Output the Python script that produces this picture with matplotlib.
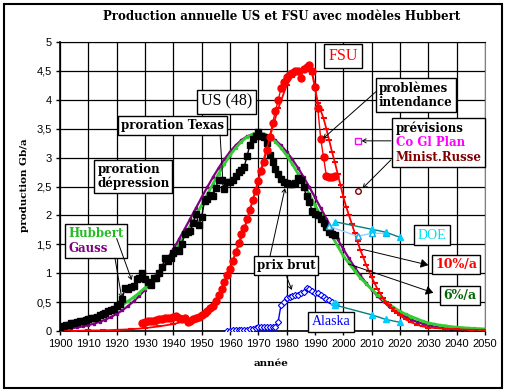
import matplotlib
matplotlib.use("Agg")
import matplotlib.pyplot as plt
from matplotlib.offsetbox import TextArea, VPacker, AnnotationBbox
from matplotlib.patches import Rectangle

# ---------------- data (Gb/a) ----------------
us_years = list(range(1900, 1998))
us_prod = [0.07, 0.08, 0.10, 0.11, 0.13, 0.14, 0.15, 0.17, 0.18, 0.19,
           0.21, 0.22, 0.23, 0.25, 0.27, 0.29, 0.31, 0.34, 0.36, 0.38,
           0.44, 0.47, 0.56, 0.75, 0.73, 0.76, 0.77, 0.90, 0.91, 1.00,
           0.90, 0.85, 0.79, 0.91, 0.91, 1.00, 1.10, 1.27, 1.21, 1.26,
           1.35, 1.40, 1.39, 1.50, 1.68, 1.71, 1.73, 1.86, 2.02, 1.84,
           1.97, 2.25, 2.29, 2.36, 2.33, 2.48, 2.62, 2.62, 2.45, 2.58,
           2.57, 2.62, 2.68, 2.75, 2.79, 2.84, 3.02, 3.22, 3.33, 3.37,
           3.44, 3.38, 3.36, 3.25, 3.05, 2.92, 2.80, 2.72, 2.63, 2.57,
           2.56, 2.54, 2.55, 2.56, 2.64, 2.62, 2.49, 2.33, 2.23, 2.08,
           2.02, 2.00, 1.93, 1.86, 1.80, 1.72, 1.67, 1.66]

fsu_years = list(range(1929, 1998))
fsu_prod = [0.14, 0.15, 0.17, 0.17, 0.18, 0.19, 0.20, 0.21, 0.22, 0.22,
            0.23, 0.24, 0.26, 0.23, 0.21, 0.22, 0.16, 0.18, 0.20, 0.23,
            0.25, 0.28, 0.31, 0.35, 0.39, 0.44, 0.52, 0.62, 0.73, 0.85,
            0.97, 1.08, 1.21, 1.36, 1.52, 1.67, 1.78, 1.94, 2.10, 2.26,
            2.42, 2.60, 2.77, 2.92, 3.14, 3.36, 3.59, 3.80, 3.99, 4.20,
            4.30, 4.40, 4.45, 4.47, 4.50, 4.49, 4.37, 4.54, 4.56, 4.60,
            4.50, 4.23, 3.85, 3.33, 3.01, 2.69, 2.66, 2.66, 2.69]

model_years = list(range(1900, 2051, 2))
us_hubbert = [0.103, 0.118, 0.136, 0.156, 0.178, 0.204, 0.234, 0.267, 0.305, 0.348,
              0.397, 0.452, 0.514, 0.584, 0.662, 0.749, 0.847, 0.955, 1.073, 1.202,
              1.342, 1.493, 1.653, 1.824, 2.000, 2.181, 2.364, 2.546, 2.724, 2.887,
              3.037, 3.167, 3.275, 3.355, 3.404, 3.420, 3.404, 3.355, 3.275, 3.167,
              3.037, 2.887, 2.724, 2.546, 2.364, 2.180, 2.000, 1.820, 1.640, 1.470,
              1.300, 1.170, 1.040, 0.920, 0.820, 0.720, 0.630, 0.550, 0.470, 0.400,
              0.340, 0.290, 0.250, 0.210, 0.170, 0.140, 0.120, 0.100, 0.090, 0.075,
              0.065, 0.058, 0.050, 0.045, 0.040, 0.035]
us_gauss = [0.028, 0.037, 0.048, 0.062, 0.079, 0.101, 0.127, 0.159, 0.197, 0.242,
            0.296, 0.358, 0.431, 0.514, 0.608, 0.714, 0.832, 0.962, 1.103, 1.255,
            1.417, 1.588, 1.765, 1.946, 2.129, 2.312, 2.490, 2.662, 2.823, 2.970,
            3.101, 3.212, 3.302, 3.367, 3.407, 3.420, 3.407, 3.367, 3.302, 3.212,
            3.101, 2.970, 2.823, 2.662, 2.490, 2.312, 2.129, 1.946, 1.765, 1.588,
            1.417, 1.255, 1.103, 0.962, 0.832, 0.714, 0.608, 0.514, 0.431, 0.358,
            0.296, 0.242, 0.197, 0.159, 0.127, 0.101, 0.079, 0.062, 0.048, 0.037,
            0.028, 0.021, 0.016, 0.012, 0.009, 0.007]

fsu_model_years = [1900, 1905, 1910, 1915, 1920, 1925, 1930, 1935, 1940, 1945,
                   1950, 1953, 1956, 1959, 1962, 1965, 1968, 1971, 1974, 1977,
                   1980, 1982, 1984, 1986, 1988, 1989, 1990, 1991, 1992, 1993,
                   1994, 1995, 1996, 1997, 1998, 1999, 2000, 2001, 2002, 2003,
                   2004, 2005, 2006, 2007, 2008, 2009, 2010, 2011, 2012, 2013,
                   2014, 2015, 2016, 2017, 2018, 2019, 2020, 2022, 2024, 2026,
                   2028, 2030, 2033, 2036, 2040, 2045, 2050]
fsu_model = [0.00, 0.00, 0.01, 0.01, 0.02, 0.03, 0.05, 0.08, 0.12, 0.18,
             0.28, 0.40, 0.62, 0.95, 1.35, 1.75, 2.25, 2.80, 3.35, 3.85,
             4.25, 4.40, 4.50, 4.55, 4.58, 4.45, 4.20, 3.95, 3.82, 3.68,
             3.50, 3.30, 3.10, 2.92, 2.72, 2.52, 2.32, 2.15, 2.00, 1.85,
             1.70, 1.55, 1.40, 1.28, 1.15, 1.04, 0.93, 0.83, 0.73, 0.65,
             0.57, 0.50, 0.45, 0.40, 0.35, 0.31, 0.27, 0.20, 0.15, 0.11,
             0.08, 0.06, 0.05, 0.04, 0.03, 0.02, 0.02]

alaska_years = list(range(1959, 1998))
alaska_prod = [0.00, 0.00, 0.01, 0.01, 0.01, 0.01, 0.01, 0.02, 0.03, 0.04,
               0.06, 0.07, 0.07, 0.07, 0.07, 0.07, 0.07, 0.07, 0.16, 0.45,
               0.51, 0.57, 0.58, 0.60, 0.62, 0.63, 0.66, 0.68, 0.74, 0.72,
               0.69, 0.65, 0.65, 0.62, 0.58, 0.56, 0.53, 0.50, 0.46]

doe_us_years = [1997, 2010, 2015, 2020]
doe_us = [1.89, 1.76, 1.71, 1.62]
doe_us2_years = [1995, 2005, 2010, 2015]
doe_us2 = [1.81, 1.64, 1.69, 1.69]
doe_ak_years = [1997, 2010, 2015, 2020]
doe_ak = [0.45, 0.28, 0.20, 0.15]

prev_year = 2005
prev_plan = 3.29
prev_minist = 2.42

years_ticks = list(range(1900, 2051, 10))
y_ticks = [0, 0.5, 1, 1.5, 2, 2.5, 3, 3.5, 4, 4.5, 5]
y_ticklabels = ["0", "0,5", "1", "1,5", "2", "2,5", "3", "3,5", "4", "4,5", "5"]

# ---------------- figure ----------------
fig = plt.figure(figsize=(5.07, 3.92), dpi=100)
fig.patches.append(Rectangle((4 / 507, 4 / 392), 498 / 507, 384 / 392,
                             transform=fig.transFigure, fill=False,
                             ec="black", lw=1.5))
ax = fig.add_axes([60 / 507, 1 - 331 / 392, 425 / 507, 289 / 392])

ax.set_xlim(1900, 2050)
ax.set_ylim(0, 5)
ax.set_xticks(years_ticks)
ax.set_xticklabels([str(y) for y in years_ticks])
ax.set_yticks(y_ticks)
ax.set_yticklabels(y_ticklabels)
ax.tick_params(direction="out", length=3, width=1, pad=3, labelsize=8)
for lab in ax.get_xticklabels() + ax.get_yticklabels():
    lab.set_family("Liberation Sans")
ax.grid(True, color="black", lw=0.9)
ax.set_axisbelow(True)
ax.spines["right"].set_color("#808080")
ax.spines["left"].set_linewidth(1.2)
ax.spines["bottom"].set_linewidth(1.2)

# models
ax.plot(model_years, us_hubbert, color="#33cc33", lw=2, marker="s", ms=2, zorder=3)
ax.plot(model_years, us_gauss, color="#800080", lw=1.6, marker="s", ms=1.8, zorder=2)
ax.plot(fsu_model_years, fsu_model, color="red", lw=1.3, marker="_", ms=5, mew=1.5, zorder=3)

# data
ax.plot(us_years, us_prod, color="black", lw=1, marker="s", ms=4.5, zorder=4)
ax.plot(fsu_years, fsu_prod, color="red", lw=1, marker="o", ms=5, zorder=4)
ax.plot(alaska_years, alaska_prod, color="blue", lw=1, marker="D", ms=3.2,
        mfc="white", mec="blue", mew=0.8, zorder=4)
ax.plot([alaska_years[-1]], [alaska_prod[-1]], ls="none", marker="D", ms=4,
        mfc="#00ccff", mec="#00ccff", zorder=5)

# DOE forecasts
ax.plot(doe_us2_years, doe_us2, color="#99ccff", lw=1, marker="^", ms=5,
        mfc="white", mec="#00b0f0", zorder=5)
ax.plot(doe_us_years, doe_us, color="#008080", lw=1, marker="^", ms=5,
        mfc="#00ccff", mec="#00ccff", zorder=5)
ax.plot(doe_ak_years, doe_ak, color="#008080", lw=1, marker="^", ms=5,
        mfc="#00ccff", mec="#00ccff", zorder=5)

# prévisions
ax.plot([prev_year], [prev_plan], ls="none", marker="s", ms=4, mfc="white",
        mec="#ff00ff", zorder=5)
ax.plot([prev_year], [prev_minist], ls="none", marker="o", ms=4, mfc="white",
        mec="#800000", zorder=5)

# ---------------- labels ----------------
fig.text(0.556, 1 - 17 / 392, "Production annuelle US et FSU avec modèles Hubbert",
         ha="center", va="center", family="DejaVu Serif", weight="bold", fontsize=8.5)
fig.text(25 / 507, 1 - 185 / 392, "production Gb/a", rotation=90, ha="center",
         va="center", family="DejaVu Serif", weight="bold", fontsize=7.5)
fig.text(271 / 507, 1 - 364 / 392, "année", ha="center", va="center",
         family="DejaVu Serif", weight="bold", fontsize=7.5)

box = dict(boxstyle="square,pad=0.25", fc="white", ec="black", lw=1)


def label(x, y, s, color="black", size=8.5, bold=True, family="DejaVu Serif"):
    ax.text(x, y, s, color=color, fontsize=size, family=family,
            weight="bold" if bold else "normal", ha="center", va="center",
            multialignment="left", linespacing=1.1, bbox=box, zorder=10)


def leader(x0, y0, x1, y1, style="->", head=0.25):
    ax.annotate("", xy=(x1, y1), xytext=(x0, y0),
                arrowprops=dict(arrowstyle=f"{style},head_length={head},head_width={head * 0.6}",
                                color="black", lw=0.7, shrinkA=0, shrinkB=0),
                zorder=11)


label(1999.9, 4.75, "FSU", color="red", size=11.5, bold=False, family="Liberation Serif")
label(1958.8, 3.97, "US (48)", size=11.5, bold=False, family="Liberation Serif")
label(1939.7, 3.55, "proration Texas")
label(1925.9, 2.67, "proration\ndépression")
label(2025.6, 4.08, "problèmes\nintendance")
label(1979.8, 1.14, "prix brut")
label(2031.3, 1.66, "DOE", color="#00e0f0", size=10, bold=False, family="Liberation Serif")
label(1995.6, 0.16, "Alaska", color="blue", size=10, bold=False, family="Liberation Serif")
label(2039.8, 1.15, "10%/a", color="red", size=9)
label(2041.2, 0.61, "6%/a", color="#006600", size=9)


def multibox(x, y, lines):
    kids = [TextArea(s, textprops=dict(color=c, family="DejaVu Serif", weight="bold",
                                       fontsize=8.5)) for s, c in lines]
    pack = VPacker(children=kids, align="left", pad=0, sep=1)
    ab = AnnotationBbox(pack, (x, y), xycoords="data", frameon=True, pad=0.2,
                        bboxprops=dict(boxstyle="square,pad=0.25", fc="white",
                                       ec="black", lw=1), zorder=10)
    ax.add_artist(ab)


multibox(1912.6, 1.56, [("Hubbert", "#22bb22"), ("Gauss", "#800080")])
multibox(2033.6, 3.26, [("prévisions", "black"), ("Co Gl Plan", "#ff00ff"),
                        ("Minist.Russe", "#800000")])

# leader lines
leader(1956.5, 3.39, 1957.5, 2.58)
leader(1920.0, 1.60, 1925.3, 0.88)
leader(1919.4, 1.26, 1921.8, 0.57)
leader(1974.1, 1.29, 1979.4, 2.47)
leader(1980.0, 0.94, 1981.8, 0.71)
leader(2011.5, 4.14, 1992.9, 3.33)
leader(2016.8, 3.29, 2006.5, 3.29)
leader(2016.8, 2.96, 2006.8, 2.47)
leader(2007.0, 1.41, 2030.0, 1.14, style="-|>", head=0.45)
leader(2001.8, 1.16, 2031.8, 0.66, style="-|>", head=0.45)

fig.savefig("out.png", dpi=100)
